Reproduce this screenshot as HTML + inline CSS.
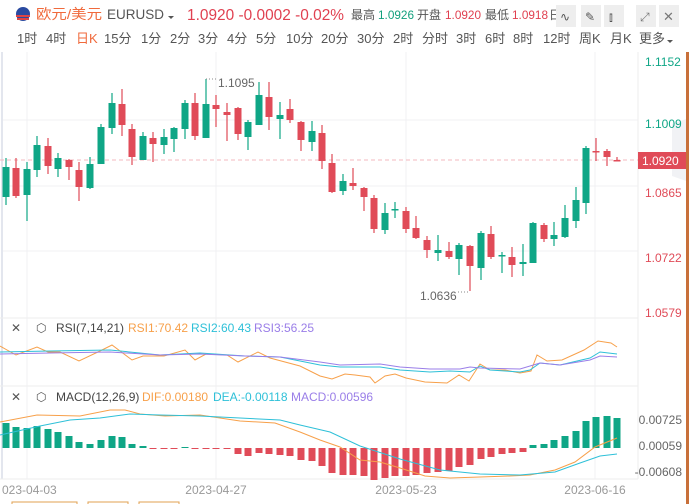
<!DOCTYPE html>
<html><head><meta charset="utf-8"><style>
body{margin:0;width:689px;height:504px;overflow:hidden;background:#fff;font-family:"Liberation Sans","Noto Sans CJK SC",sans-serif;}
svg{position:absolute;left:0;top:0}
</style></head><body>
<svg id="s" width="689" height="504" xmlns="http://www.w3.org/2000/svg" font-family="Liberation Sans, Noto Sans CJK SC, sans-serif">
<rect x="0" y="0" width="689" height="504" fill="#fff"/>
<circle cx="23" cy="14" r="7" fill="#2a4aa0"/><path d="M16 15 h14 v2 h-14z M17 18 h12 v2 h-12z" fill="#d44"/>
<text x="36" y="19" font-size="14" fill="#f06a3c" textLength="66" lengthAdjust="spacingAndGlyphs">欧元/美元</text>
<text x="107" y="19" font-size="14" fill="#555" textLength="57" lengthAdjust="spacingAndGlyphs">EURUSD</text>
<path d="M168 16 l3 3 l3 -3z" fill="#555"/>
<text x="187" y="20" font-size="16" fill="#e04050" textLength="157" lengthAdjust="spacingAndGlyphs">1.0920 -0.0002 -0.02%</text>
<text x="351" y="19" font-size="12" fill="#555">最高</text><text x="378" y="19" font-size="12" fill="#13a07d" textLength="36" lengthAdjust="spacingAndGlyphs">1.0926</text>
<text x="417" y="19" font-size="12" fill="#555">开盘</text><text x="445" y="19" font-size="12" fill="#e04050" textLength="36" lengthAdjust="spacingAndGlyphs">1.0920</text>
<text x="485" y="19" font-size="12" fill="#555">最低</text><text x="512" y="19" font-size="12" fill="#e04050" textLength="36" lengthAdjust="spacingAndGlyphs">1.0918</text>
<text x="549" y="19" font-size="12" fill="#555">日</text>
<rect x="556" y="5" width="20" height="22" fill="#eee"/><rect x="581" y="5" width="20" height="22" fill="#eee"/><rect x="604" y="5" width="20" height="22" fill="#eee"/>
<rect x="636" y="5" width="20" height="22" fill="#eee"/><rect x="659" y="5" width="20" height="22" fill="#eee"/>
<text x="560" y="21" font-size="12" fill="#555">∿</text><text x="585" y="21" font-size="12" fill="#555">✎</text><text x="609" y="21" font-size="12" fill="#555">⫾</text>
<text x="640" y="21" font-size="12" fill="#777">⤢</text><text x="663" y="21" font-size="13" fill="#777">✕</text>
<g font-size="13" fill="#555">
<text x="17" y="43">1时</text><text x="46" y="43">4时</text><text x="76" y="43" fill="#f06a3c">日K</text><text x="104" y="43">15分</text><text x="141" y="43">1分</text><text x="170" y="43">2分</text><text x="198" y="43">3分</text><text x="227" y="43">4分</text><text x="256" y="43">5分</text><text x="286" y="43">10分</text><text x="321" y="43">20分</text><text x="357" y="43">30分</text><text x="393" y="43">2时</text><text x="422" y="43">分时</text><text x="456" y="43">3时</text><text x="485" y="43">6时</text><text x="513" y="43">8时</text><text x="543" y="43">12时</text><text x="579" y="43">周K</text><text x="610" y="43">月K</text><text x="639" y="43">更多</text>
</g>
<path d="M667 40 l3 3 l3 -3z" fill="#555"/>
<g id="g"></g>
</svg>
<script>
const g=document.getElementById('g');let h='';
const G='#0fa686',R='#e04b58';
[120,186,251].forEach(y=>h+=`<line x1="3" x2="638" y1="${y}" y2="${y}" stroke="#f0f0f3"/>`);
[27,216,406,595].forEach(x=>h+=`<line x1="${x}" x2="${x}" y1="52" y2="479" stroke="#f0f0f3"/>`);
h+=`<line x1="2" x2="2" y1="52" y2="479" stroke="#e3e6ee" stroke-width="2"/>`;
h+=`<line x1="0" x2="638" y1="318" y2="318" stroke="#eee"/><line x1="0" x2="638" y1="386" y2="386" stroke="#eee"/><line x1="0" x2="638" y1="479" y2="479" stroke="#eee"/>`;
h+=`<line x1="638" x2="638" y1="52" y2="479" stroke="#eee"/>`;
h+=`<line x1="0" x2="638" y1="160" y2="160" stroke="#f3b8bf" stroke-dasharray="4,3"/>`;
const c=[[6,'G',167,197,158,205],[16,'R',168,196,158,198],[27,'G',169,195,162,221],[37,'G',145,170,136,177],[48,'R',146,166,138,174],[58,'G',158,169,153,177],[69,'R',160,167,159,180],[79,'R',170,187,162,201],[90,'G',164,188,157,189],[101,'G',127,164,124,164],[112,'G',103,128,93,134],[122,'R',104,125,89,136],[132,'R',129,157,124,165],[143,'G',136,160,132,160],[153,'R',138,144,132,162],[164,'G',137,145,129,154],[174,'G',128,139,127,152],[185,'G',103,129,100,139],[195,'R',103,136,93,140],[206,'G',104,138,79,138],[216,'R',105,109,95,127],[227,'R',112,115,103,141],[238,'R',108,134,107,140],[248,'G',122,137,120,150],[259,'G',95,125,82,125],[269,'R',97,117,82,130],[280,'G',115,119,102,139],[290,'R',109,120,99,123],[301,'R',122,140,121,151],[312,'G',131,142,121,151],[322,'R',133,161,125,169],[332,'R',163,192,154,193],[343,'G',181,191,174,195],[353,'R',183,186,168,190],[364,'R',188,197,187,211],[374,'R',198,229,195,233],[385,'G',213,230,203,234],[395,'G',209,210,202,218],[406,'R',211,229,207,233],[416,'R',228,238,216,239],[427,'R',240,250,236,258],[438,'G',250,253,235,261],[449,'R',251,257,242,259],[459,'G',245,259,243,275],[470,'R',246,266,245,291],[481,'G',233,268,231,280],[491,'R',234,257,226,259],[502,'G',255,256,252,273],[512,'R',257,265,247,277],[523,'G',262,264,244,276],[533,'G',223,263,222,263],[544,'R',225,239,223,242],[554,'G',235,239,222,246],[565,'G',218,237,205,238],[576,'G',200,221,187,228],[586,'G',148,203,146,214],[596,'R',151,152,138,161],[607,'R',151,157,149,166],[617,'R',160,161,157,161]];
c.forEach(([x,k,t,b,wt,wb])=>{const col=k=='G'?G:R;h+=`<line x1="${x}" x2="${x}" y1="${wt}" y2="${wb}" stroke="${col}" stroke-width="1.2"/><rect x="${x-3.5}" y="${t}" width="7" height="${Math.max(1.5,b-t)}" fill="${col}"/>`;});
const m=[25,21,20,22,19,16,12,6,4,8,12,11,4,2,-1,-1,-1,1,-1,-1,-1,-1,-6,-8,-5,-6,-7,-8,-12,-13,-18,-25,-27,-27,-28,-32,-30,-28,-28,-27,-25,-24,-23,-19,-17,-11,-9,-6,-5,-4,3,4,8,12,17,27,31,32,30];
m.forEach((v,i)=>{const x=c[i][0];const col=v>0?G:R;const y=v>0?448-v:448;h+=`<rect x="${x-3.5}" y="${y}" width="7" height="${Math.abs(v)}" fill="${col}"/>`;});
const pl=(p,col)=>h+=`<polyline fill="none" stroke="${col}" stroke-width="1" points="${p}"/>`;
pl('0,422 37,415 80,416 110,410 125,410 140,414 165,416 200,415 240,421 275,423 300,432 320,440 340,447 360,460 380,462 400,468 425,476 450,478 480,477 510,476 530,475 555,470 575,462 595,447 617,438','#f7a04a');
pl('0,435 40,426 70,420 100,418 130,414 160,415 200,416 240,418 280,420 300,425 330,432 360,446 400,459 440,470 480,474 520,475 555,472 580,463 600,456 617,454','#2ec0d8');
pl('0,346 16,355 37,347 48,352 60,352 79,361 100,351 112,345 132,360 143,356 164,356 185,350 195,360 206,354 227,355 238,362 258,352 270,358 300,366 320,376 332,379 345,374 355,375 370,377 375,383 385,376 395,374 406,378 425,382 447,383 459,375 469,381 480,364 490,370 505,370 520,373 531,371 537,355 547,361 562,360 584,350 598,341 611,343 617,347','#f7a04a');
pl('0,352 50,351 110,350 160,355 200,353 245,356 280,357 320,365 340,367 380,367 400,370 430,372 450,371 470,372 480,366 490,370 520,372 530,370 540,363 560,365 590,358 600,352 617,354','#2ec0d8');
pl('0,354 50,353 110,352 160,355 200,354 245,356 280,357 320,362 340,365 380,364 400,367 430,369 460,369 470,367 480,368 520,369 540,363 560,365 590,360 600,356 617,357','#9a7ee8');
h+=`<line x1="206" x2="216" y1="79" y2="79" stroke="#888" stroke-dasharray="1,2"/><text x="218" y="87" font-size="12" fill="#666">1.1095</text>`;
h+=`<text x="420" y="300" font-size="12" fill="#666">1.0636</text><line x1="458" x2="470" y1="292" y2="292" stroke="#888" stroke-dasharray="1,2"/>`;
h+=`<path d="M672 124 L689 118 L689 182 L672 176z" fill="#f1f2f5"/><text x="675" y="159" font-size="13" fill="#aaa">‹</text>`;
const ax=[[62,'1.1152',G],[124,'1.1009',G],[193,'1.0865',R],[258,'1.0722',R],[313,'1.0579',R]];
ax.forEach(([y,t,col])=>h+=`<text x="645" y="${y+4}" font-size="12" fill="${col}">${t}</text>`);
h+=`<rect x="638" y="152" width="48" height="17" fill="#e04b58"/><text x="642" y="165" font-size="12" fill="#fff">1.0920</text>`;
h+=`<rect x="686" y="52" width="3" height="452" fill="#c8703a"/>`;
[[424,'0.00725'],[450,'0.00059'],[476,'-0.00608']].forEach(([y,t])=>h+=`<text x="682" y="${y}" font-size="12" fill="#666" text-anchor="end">${t}</text>`);
h+=`<text x="11" y="332" font-size="12" fill="#555">✕</text><text x="36" y="332" font-size="12" fill="#555">⬡</text><text x="56" y="332" font-size="12" fill="#444">RSI(7,14,21)</text><text x="128" y="332" font-size="12" fill="#f7a04a">RSI1:70.42</text><text x="191" y="332" font-size="12" fill="#2ec0d8">RSI2:60.43</text><text x="254" y="332" font-size="12" fill="#9a7ee8">RSI3:56.25</text>`;
h+=`<text x="11" y="401" font-size="12" fill="#555">✕</text><text x="36" y="401" font-size="12" fill="#555">⬡</text><text x="56" y="401" font-size="12" fill="#444">MACD(12,26,9)</text><text x="142" y="401" font-size="12" fill="#f7a04a">DIF:0.00180</text><text x="213" y="401" font-size="12" fill="#2ec0d8">DEA:-0.00118</text><text x="291" y="401" font-size="12" fill="#9a7ee8">MACD:0.00596</text>`;
[[2,'023-04-03','start'],[216,'2023-04-27','middle'],[406,'2023-05-23','middle'],[595,'2023-06-16','middle']].forEach(([x,t,a])=>h+=`<text x="${x}" y="494" font-size="12" fill="#999" text-anchor="${a}">${t}</text>`);
h+=`<rect x="12" y="502" width="65" height="8" fill="none" stroke="#e0a050"/><rect x="88" y="502" width="40" height="8" fill="none" stroke="#e0a050"/><rect x="139" y="502" width="40" height="8" fill="none" stroke="#e0a050"/>`;
g.innerHTML=h;
</script>
</body></html>
